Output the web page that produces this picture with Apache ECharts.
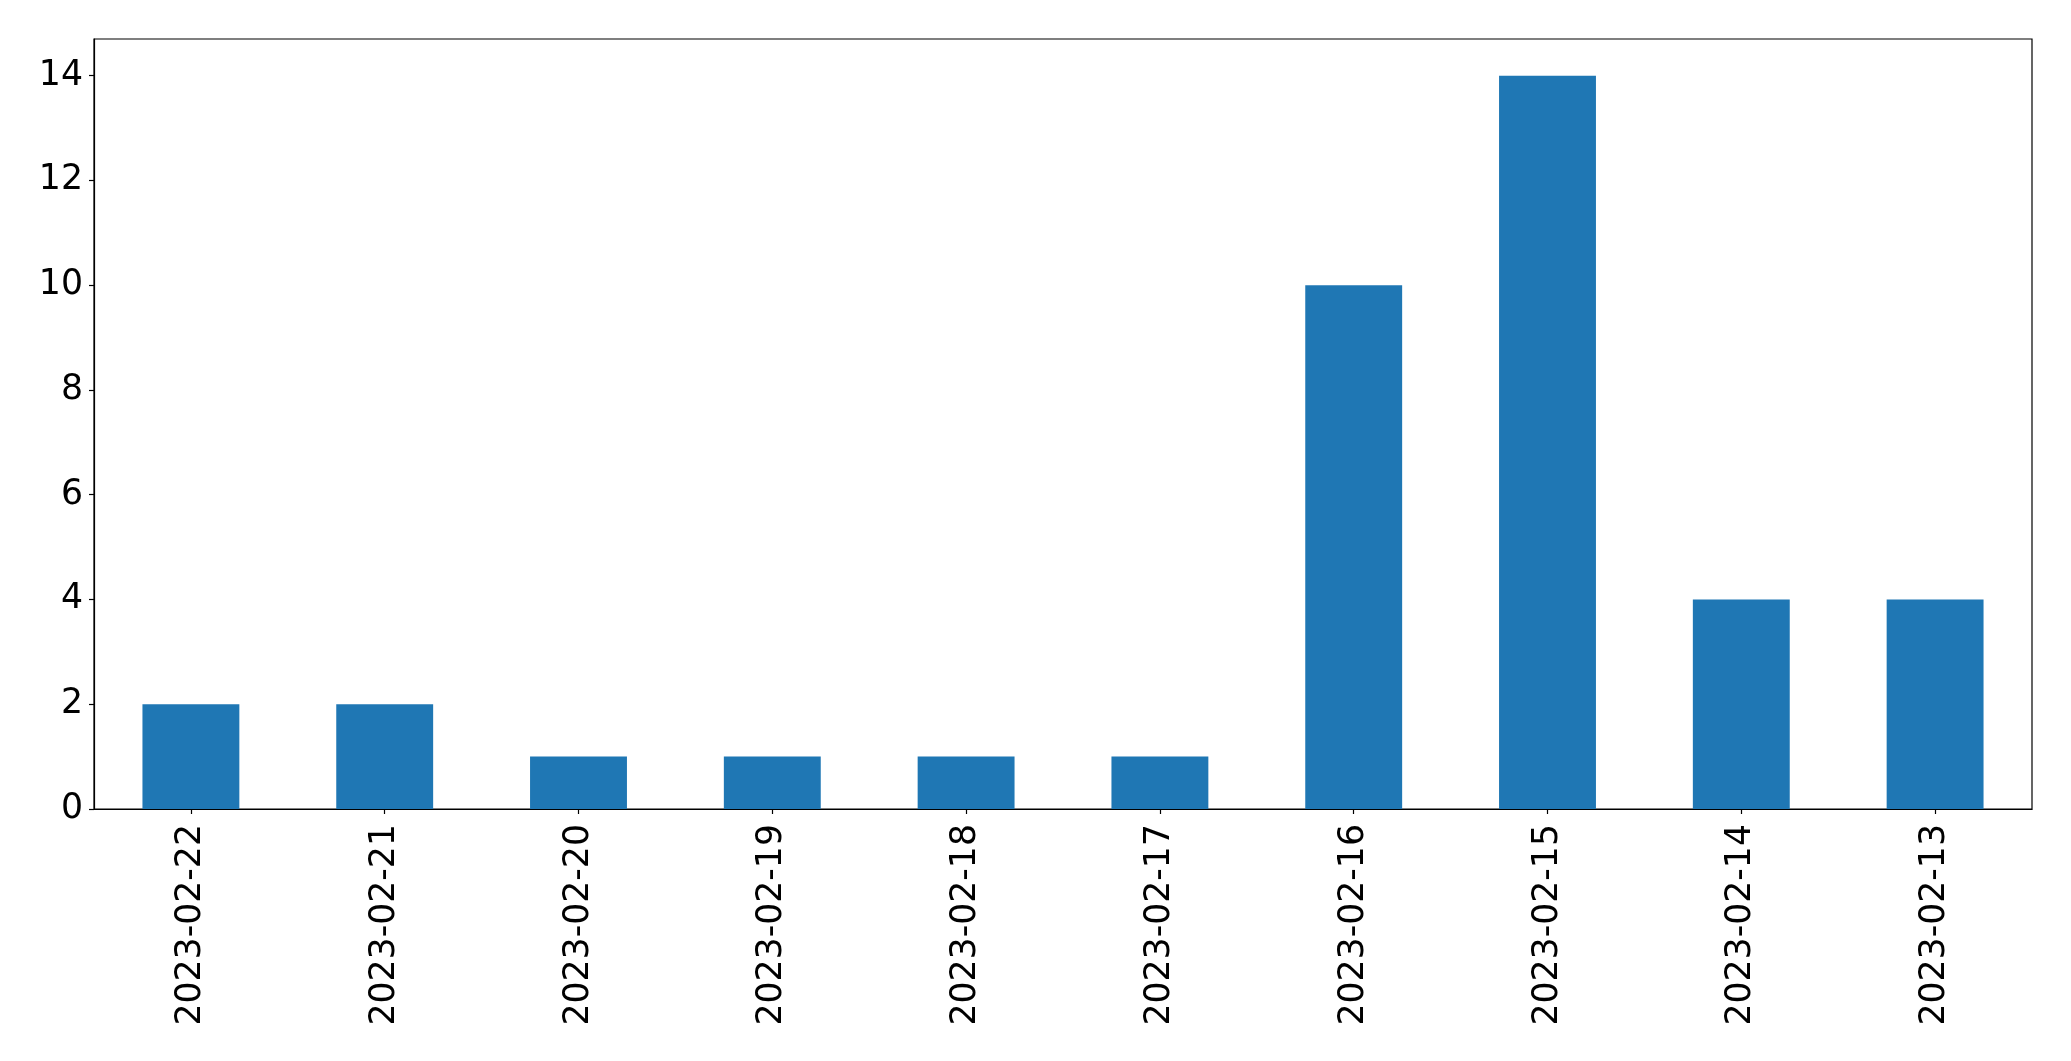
<!DOCTYPE html>
<html>
<head>
<meta charset="utf-8">
<script src="https://cdn.jsdelivr.net/npm/echarts@6/dist/echarts.min.js"></script>
<style>
html,body{margin:0;padding:0;background:#fff;}
#chart{width:2071px;height:1061px;}
</style>
</head>
<body>
<div id="chart"></div>
<script>
const categories = ['2023-02-22','2023-02-21','2023-02-20','2023-02-19','2023-02-18','2023-02-17','2023-02-16','2023-02-15','2023-02-14','2023-02-13'];
const counts = [2, 2, 1, 1, 1, 1, 10, 14, 4, 4];
const yTicks = [0, 2, 4, 6, 8, 10, 12, 14];
const yMax = 14.7;

const chart = echarts.init(document.getElementById('chart'), null, {renderer: 'canvas'});
const font = 'DejaVu Sans';
chart.setOption({
  animation: false,
  backgroundColor: '#ffffff',
  grid: {
    left: 94, right: 39, top: 39, bottom: 252,
    show: true, borderColor: '#000', borderWidth: 1.2, backgroundColor: 'transparent'
  },
  xAxis: {
    type: 'category',
    data: categories,
    boundaryGap: true,
    axisLine: {show: true, lineStyle: {color: '#000', width: 1.2}},
    axisTick: {show: true, alignWithLabel: true, length: 5, lineStyle: {color: '#000', width: 1.2}},
    axisLabel: {rotate: 90, margin: 15, color: '#000', fontFamily: font, fontSize: 34.7, interval: 0},
    splitLine: {show: false}
  },
  yAxis: {
    type: 'value',
    min: 0, max: yMax, interval: 2,
    axisLine: {show: true, lineStyle: {color: '#000', width: 1.2}},
    axisTick: {show: true, length: 5, lineStyle: {color: '#000', width: 1.2}, customValues: yTicks},
    axisLabel: {margin: 11, color: '#000', fontFamily: font, fontSize: 34.7, customValues: yTicks},
    splitLine: {show: false}
  },
  series: [{
    type: 'bar',
    data: counts,
    barWidth: '50%',
    itemStyle: {color: '#1f77b4'}
  }]
});
</script>
</body>
</html>
